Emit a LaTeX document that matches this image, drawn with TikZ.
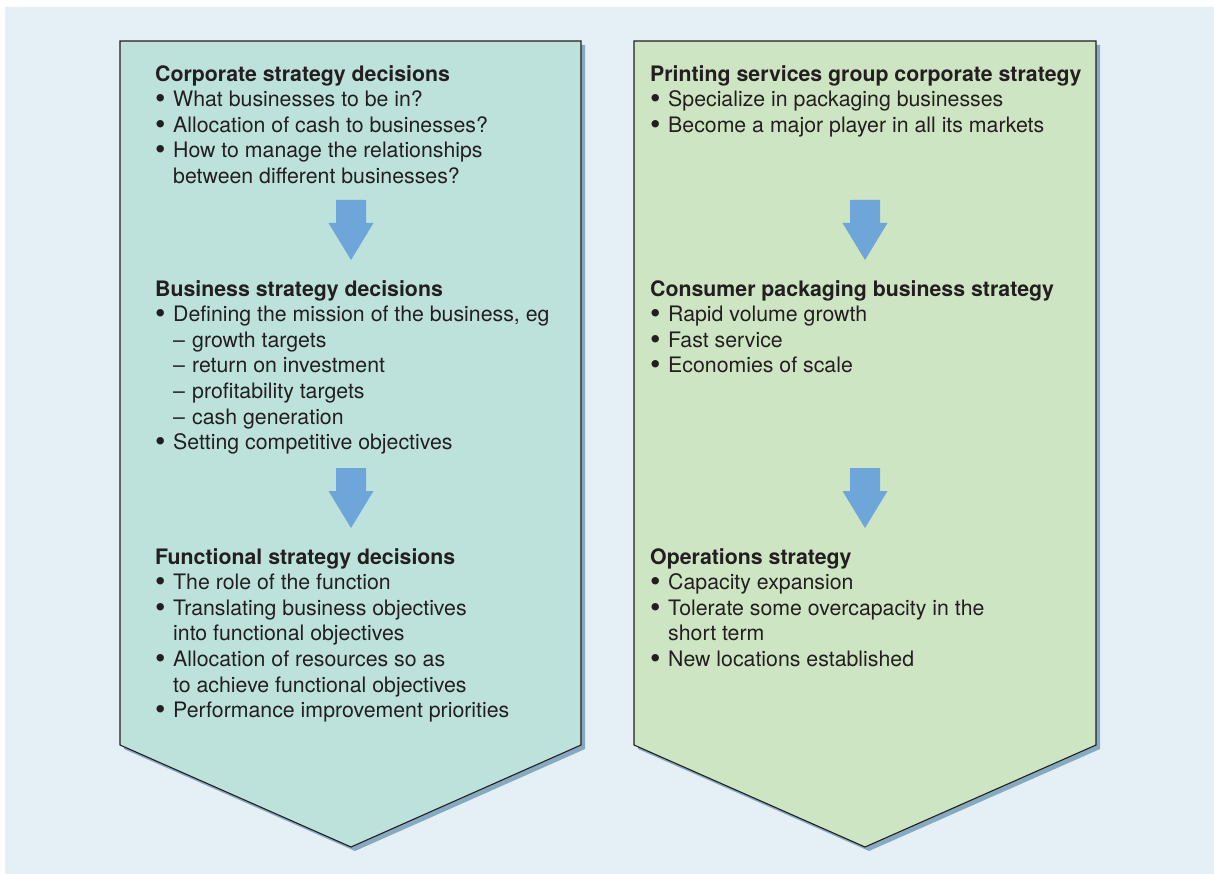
\documentclass[tikz,border=0pt]{standalone}
\usepackage{fontspec}
\setmainfont{TeX Gyre Heros}
\usepackage{graphicx}
\usepackage{tikz}
\usetikzlibrary{positioning}
\definecolor{bgBlue}{HTML}{E4EFF6}
\definecolor{panelTeal}{HTML}{BDE2DC}
\definecolor{panelGreen}{HTML}{CEE5C3}
\definecolor{arrowBlue}{HTML}{6FA6D9}
\definecolor{shadowBlue}{HTML}{86AAC0}
\definecolor{inkDark}{HTML}{231F20}

\newcommand{\itm}{\makebox[18pt][l]{\smash{\raisebox{-2pt}{\scalebox{1.4}{\textbullet}}}}}
\newcommand{\subitm}{\hspace{18pt}\makebox[19pt][l]{--}}
\newcommand{\cont}{\hspace{18pt}}

\begin{document}
\begin{tikzpicture}[x=1pt,y=-1pt,
    txt/.style={anchor=north west, inner sep=0pt, align=left, text=inkDark,
      font=\fontsize{21.3}{25.6}\selectfont},
    panel/.style={draw=inkDark, line width=1.1pt, line join=miter},
    downarrow/.pic={\fill[arrowBlue] (-15,0) -- (15,0) -- (15,23) -- (22.5,23)
      -- (0,60) -- (-22.5,23) -- (-15,23) -- cycle;}]
  %% background
  \useasboundingbox (0,0) rectangle (1214,874);
  \fill[white] (0,0) rectangle (1214,874);
  \fill[bgBlue] (5,7) rectangle (1214,874);

  %% panels
  % left
  \fill[shadowBlue] (124,45) -- (585,45) -- (585,749) -- (355,851) -- (124,749) -- cycle;
  \draw[panel, fill=panelTeal] (120,41) -- (581,41) -- (581,745) -- (351,847) -- (120,745) -- cycle;
  % right
  \fill[shadowBlue] (638,45) -- (1100,45) -- (1100,749) -- (869,851) -- (638,749) -- cycle;
  \draw[panel, fill=panelGreen] (634,41) -- (1096,41) -- (1096,745) -- (865,847) -- (634,745) -- cycle;

  %% left column: decision levels
  \node[txt] (corpL) at (155,65) {\textbf{Corporate strategy decisions}\\
    \itm What businesses to be in?\\
    \itm Allocation of cash to businesses?\\
    \itm How to manage the relationships\\
    \cont between different businesses?};
  \pic at (351,200) {downarrow};
  \node[txt] (busL) at (155,280) {\textbf{Business strategy decisions}\\
    \itm Defining the mission of the business, eg\\
    \subitm growth targets\\
    \subitm return on investment\\
    \subitm profitability targets\\
    \subitm cash generation\\
    \itm Setting competitive objectives};
  \pic at (351,468) {downarrow};
  \node[txt] (funcL) at (155,548) {\textbf{Functional strategy decisions}\\
    \itm The role of the function\\
    \itm Translating business objectives\\
    \cont into functional objectives\\
    \itm Allocation of resources so as\\
    \cont to achieve functional objectives\\
    \itm Performance improvement priorities};

  %% right column: printing services group
  \node[txt] (corpR) at (650,65) {\textbf{Printing services group corporate strategy}\\
    \itm Specialize in packaging businesses\\
    \itm Become a major player in all its markets};
  \pic at (865,200) {downarrow};
  \node[txt] (busR) at (650,280) {\textbf{Consumer packaging business strategy}\\
    \itm Rapid volume growth\\
    \itm Fast service\\
    \itm Economies of scale};
  \pic at (865,468) {downarrow};
  \node[txt] (opsR) at (650,548) {\textbf{Operations strategy}\\
    \itm Capacity expansion\\
    \itm Tolerate some overcapacity in the\\
    \cont short term\\
    \itm New locations established};
\end{tikzpicture}
\end{document}
